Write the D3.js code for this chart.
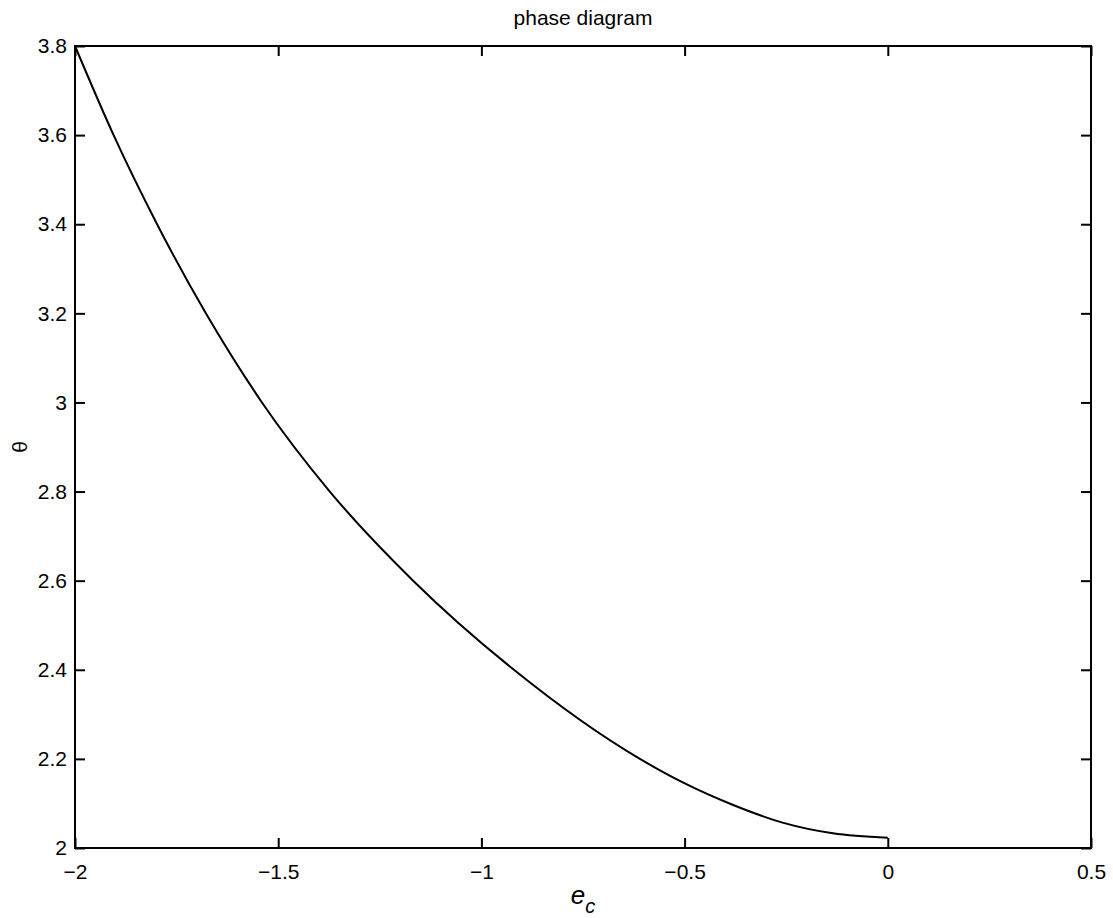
<!DOCTYPE html>
<html>
<head>
<meta charset="utf-8">
<script src="https://cdn.jsdelivr.net/npm/d3@7"></script>
<style>
    body { margin: 0; background: #fff; }
    svg { display: block; }
    .axis text { font-family: "Liberation Sans", Arial, Helvetica, sans-serif; font-size: 21px; fill: #000; }
    .axis line { stroke: #000; stroke-width: 2px; }
    .axis path { display: none; }
</style>
</head>
<body>
<svg id="phase" width="1113" height="918"></svg>
<script>
(function () {
    'use strict';

    // values
    var ecValues = [-2.0, -1.905, -1.798, -1.678, -1.540, -1.373, -1.168, -0.920, -0.610,
        -0.502, -0.382, -0.259, -0.135, 0.0];
    var thetaValues = [3.8, 3.6, 3.4, 3.2, 3.0, 2.8, 2.6, 2.4, 2.2,
        2.146, 2.097, 2.057, 2.033, 2.023];

    var xTickValues = [-2, -1.5, -1, -0.5, 0, 0.5];
    var xTickLabels = ["\u22122", "\u22121.5", "\u22121", "\u22120.5", "0", "0.5"];
    var yTickValues = [2, 2.2, 2.4, 2.6, 2.8, 3, 3.2, 3.4, 3.6, 3.8];
    var yTickLabels = ["2", "2.2", "2.4", "2.6", "2.8", "3", "3.2", "3.4", "3.6", "3.8"];

    var vm = {};

    createSvg();
    setUpAxis();
    drawLine();
    createAxis();
    drawLabels();

    function createSvg() {
        vm.svg = d3.select("svg#phase");
        vm.margin = {top: 46, right: 22, bottom: 70, left: 75};
        vm.width = vm.svg.attr("width") - vm.margin.left - vm.margin.right;
        vm.height = vm.svg.attr("height") - vm.margin.top - vm.margin.bottom;
        vm.g = vm.svg.append("g").attr("transform", "translate(" + vm.margin.left + "," + vm.margin.top + ")");
    }

    function setUpAxis() {
        vm.x = d3.scaleLinear().domain([-2, 0.5]).range([0, vm.width]);
        vm.y = d3.scaleLinear().domain([2, 3.8]).range([vm.height, 0]);
    }

    function drawLine() {
        vm.line = d3.line()
            .curve(d3.curveMonotoneX)
            .x(function (d) {
                return vm.x(d.ec);
            })
            .y(function (d) {
                return vm.y(d.theta);
            });

        vm.data = ecValues.map(function (ec, i) {
            return {ec: ec, theta: thetaValues[i]};
        });
    }

    function createAxis() {
        vm.g.append("g")
            .attr("class", "axis axis--x")
            .attr("transform", "translate(0," + vm.height + ")")
            .call(d3.axisBottom(vm.x).tickValues(xTickValues).tickSizeInner(-10).tickSizeOuter(0).tickPadding(16)
                .tickFormat(function (d, i) { return xTickLabels[i]; }));

        vm.g.append("g")
            .attr("class", "axis axis--top")
            .call(d3.axisTop(vm.x).tickValues(xTickValues).tickSizeInner(-10).tickSizeOuter(0).tickFormat(""));

        vm.g.append("g")
            .attr("class", "axis axis--y")
            .call(d3.axisLeft(vm.y).tickValues(yTickValues).tickSizeInner(-10).tickSizeOuter(0).tickPadding(8)
                .tickFormat(function (d, i) { return yTickLabels[i]; }));

        vm.g.append("g")
            .attr("class", "axis axis--right")
            .attr("transform", "translate(" + vm.width + ",0)")
            .call(d3.axisRight(vm.y).tickValues(yTickValues).tickSizeInner(-10).tickSizeOuter(0).tickFormat(""));

        vm.g.append("rect")
            .attr("width", vm.width)
            .attr("height", vm.height)
            .attr("fill", "none")
            .attr("stroke", "#000")
            .attr("stroke-width", 2);

        vm.g.append("path")
            .datum(vm.data)
            .attr("class", "line")
            .attr("fill", "none")
            .attr("stroke", "#000")
            .attr("stroke-width", 2)
            .attr("d", vm.line);
    }

    function drawLabels() {
        var font = '"Liberation Sans", Arial, Helvetica, sans-serif';

        vm.svg.append("text")
            .attr("x", vm.margin.left + vm.width / 2)
            .attr("y", 25)
            .attr("text-anchor", "middle")
            .style("font-family", font)
            .style("font-size", "21px")
            .text("phase diagram");

        vm.svg.append("text")
            .attr("transform", "translate(27," + (vm.margin.top + vm.height / 2) + ") rotate(-90)")
            .attr("text-anchor", "middle")
            .style("font-family", font)
            .style("font-size", "21px")
            .text("\u03b8");

        var xl = vm.svg.append("text")
            .attr("x", vm.margin.left + vm.width / 2)
            .attr("y", 904)
            .attr("text-anchor", "middle")
            .style("font-family", font)
            .style("font-style", "italic");
        xl.append("tspan").style("font-size", "26px").text("e");
        xl.append("tspan").attr("dy", 9).style("font-size", "20px").text("c");
    }

})();
</script>
</body>
</html>
